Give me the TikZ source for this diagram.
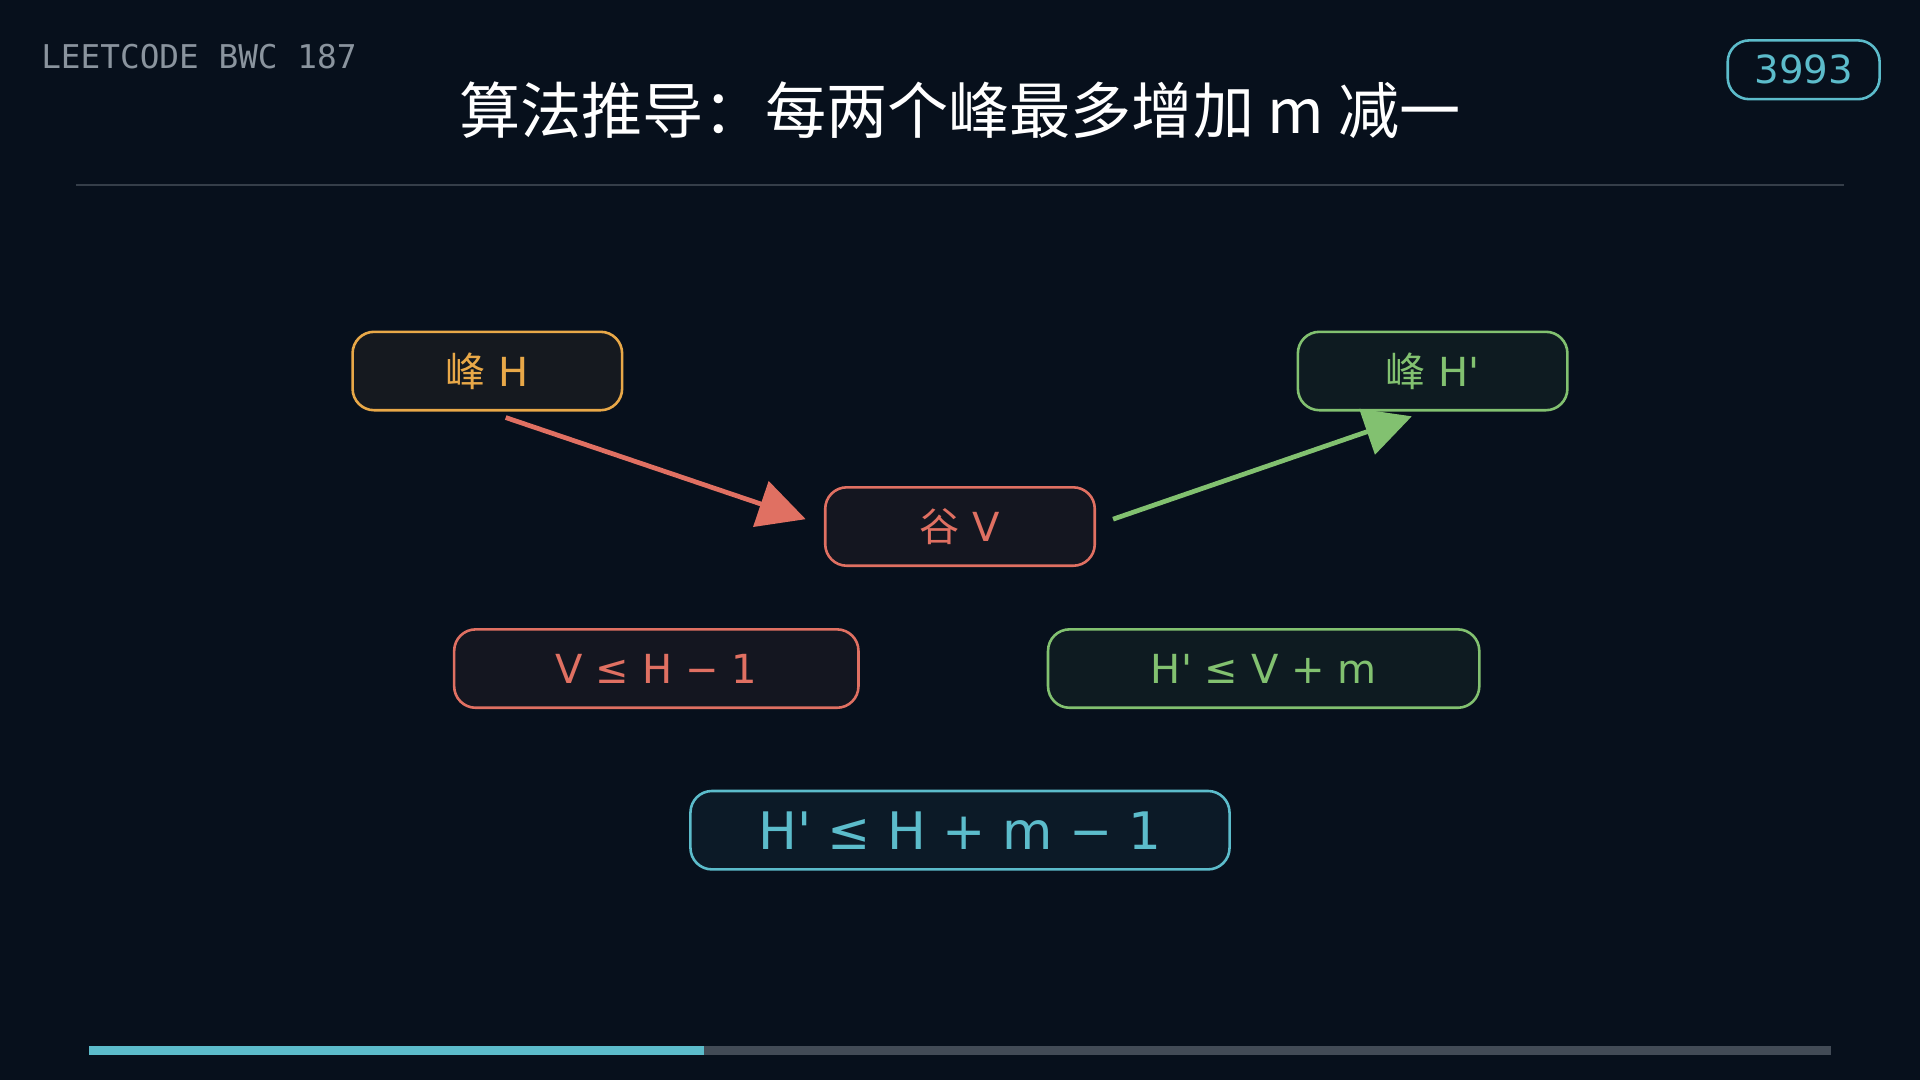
\documentclass[tikz,border=0pt]{standalone}
\usepackage{fontspec}
\setmainfont{DejaVu Sans}
\newfontfamily\cjk{Noto Sans CJK SC}
\newfontfamily\monofont{DejaVu Sans Mono}
\usetikzlibrary{arrows.meta}
\definecolor{bgnavy}{HTML}{07101C}
\definecolor{peakorange}{HTML}{E8A848}
\definecolor{valleyred}{HTML}{E07062}
\definecolor{peakgreen}{HTML}{82C170}
\definecolor{resteal}{HTML}{5CBCCB}
\definecolor{labelgray}{HTML}{8A949E}
\newcommand{\pr}{\textquotesingle}
\begin{document}
\begin{tikzpicture}[x=0.01cm, y=-0.01cm,
    box/.style={draw=#1, text=#1, rounded corners=5pt, line width=0.6pt,
                minimum height=0.64cm, font=\fontsize{9.3}{12}\selectfont},
    arrow/.style={draw=#1, line width=1.1pt, -{Triangle[length=11pt,width=11pt,fill=#1]}}]
    \fill[bgnavy] (0,0) rectangle (1568,882);
    \useasboundingbox (0,0) rectangle (1568,882);

    % header
    \node[text=labelgray, anchor=west, inner sep=0pt, font=\monofont\fontsize{7.6}{10}\selectfont] (brand) at (33,46) {LEETCODE BWC 187};
    \node[draw=resteal, text=resteal, rounded corners=5pt, line width=0.6pt, minimum width=1.24cm,
          minimum height=0.48cm, font=\fontsize{9}{11}\selectfont] (badge) at (1473,57) {3993};
    \node[text=white, font=\cjk\fontsize{14.2}{16}\selectfont] (title) at (784,90) {算法推导：每两个峰最多增加 m 减一};
    \draw[labelgray!35!bgnavy, line width=0.5pt] (62,151) -- (1506,151);

    % peaks and valley
    \node[box=peakorange, fill=peakorange!6!bgnavy, minimum width=2.2cm] (peakH) at (398,303) {{\cjk 峰} H};
    \node[box=peakgreen, fill=peakgreen!6!bgnavy, minimum width=2.2cm] (peakH2) at (1170,303) {{\cjk 峰} H\pr};
    \node[box=valleyred, fill=valleyred!6!bgnavy, minimum width=2.2cm] (valV) at (784,430) {{\cjk 谷} V};
    \coordinate (redS) at (413,341);
    \coordinate (redE) at (658,424);
    \coordinate (grnS) at (909,424);
    \coordinate (grnE) at (1153,340);
    \draw[arrow=valleyred] (redS) -- (redE);
    \draw[arrow=peakgreen] (grnS) -- (grnE);

    % inequalities
    \node[box=valleyred, fill=valleyred!6!bgnavy, minimum width=3.3cm] (ineqA) at (536,546) {V ≤ H − 1};
    \node[box=peakgreen, fill=peakgreen!6!bgnavy, minimum width=3.52cm] (ineqB) at (1032,546) {H\pr\ ≤ V + m};
    \node[box=resteal, fill=resteal!6!bgnavy, minimum width=4.4cm,
          font=\fontsize{12}{15}\selectfont] (result) at (784,678) {H\pr\ ≤ H + m − 1};

    % progress bar
    \draw[labelgray!45!bgnavy, line width=2.2pt] (73,858) -- (1495,858);
    \draw[resteal, line width=2.2pt] (73,858) -- (575,858);
\end{tikzpicture}
\end{document}
